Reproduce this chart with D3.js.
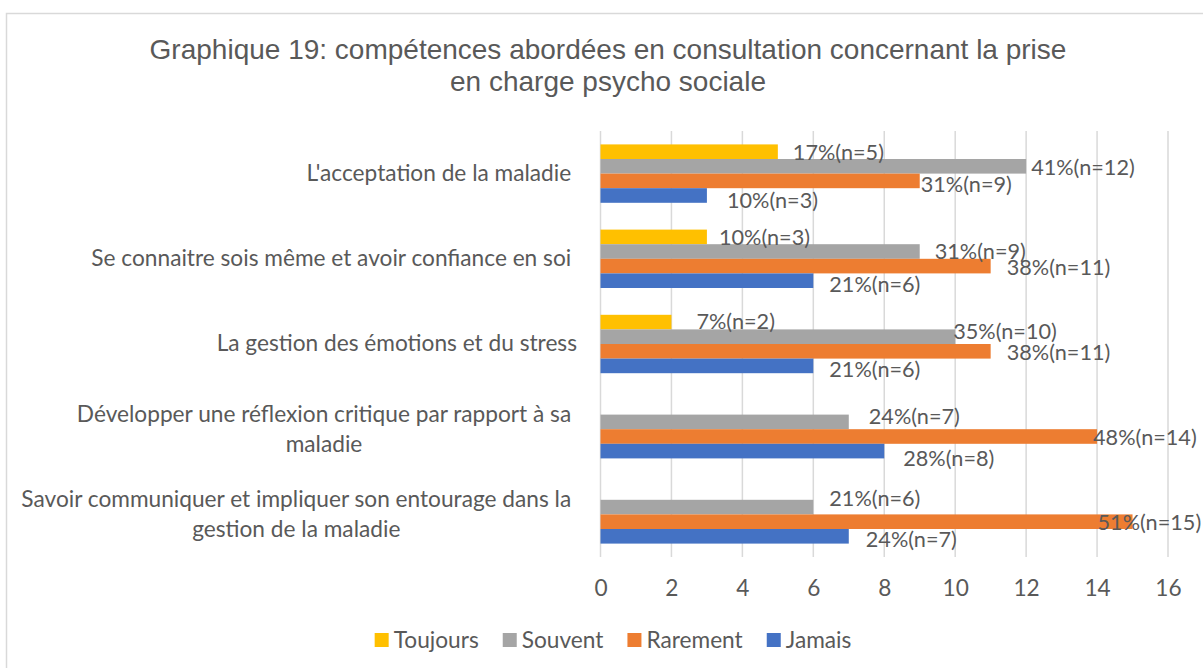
<!DOCTYPE html>
<html>
<head>
<meta charset="utf-8">
<script src="https://cdn.jsdelivr.net/npm/d3@7"></script>
<style>
  html, body { margin: 0; padding: 0; background: #ffffff; }
  svg { display: block; }
  text { white-space: pre; }
</style>
</head>
<body>
<svg id="chart" width="1203" height="668"></svg>
<script>
// ---------------- data ----------------
const titleLines = ["Graphique 19: compétences abordées en consultation concernant la prise", "en charge psycho sociale"];
const categories = [
  "L'acceptation de la maladie ",
  "Se connaitre sois même et avoir confiance en soi ",
  "La gestion des émotions et du stress",
  "Développer une réflexion critique par rapport à sa \nmaladie",
  "Savoir communiquer et impliquer son entourage dans la \ngestion de la maladie"
];
const seriesNames = ["Toujours", "Souvent", "Rarement", "Jamais"];
const toujours = [5, 3, 2, 0, 0];
const souvent  = [12, 9, 10, 7, 6];
const rarement = [9, 11, 11, 14, 15];
const jamais   = [3, 6, 6, 8, 7];
const toujoursPct = [17, 10, 7, null, null];
const souventPct  = [41, 31, 35, 24, 21];
const rarementPct = [31, 38, 38, 48, 51];
const jamaisPct   = [10, 21, 21, 28, 24];
const xTicks = [0, 2, 4, 6, 8, 10, 12, 14, 16];

// ---------------- layout / style ----------------
const colors = { Toujours: "#FFC000", Souvent: "#A5A5A5", Rarement: "#ED7D31", Jamais: "#4472C4" };
// manual nudges of data labels (dx from bar end, dy from bar centre), as moved in the original
const labelNudge = {
  Toujours: [[15, 1], [12, 1], [25, 0], [0, 0], [0, 0]],
  Souvent:  [[5, 2], [15, 0], [-2, -5], [20, -5], [16, -8]],
  Rarement: [[1, 4], [16, 2], [16, 2], [-4, 1], [-35, 1]],
  Jamais:   [[20, 5], [16, 4], [16, 4], [19, 8], [17, 4]]
};
const textColor = "#595959";
const gridColor = "#D9D9D9";
const titleFont = "'Liberation Sans', Arial, sans-serif";
const bodyFont = "Lato, 'Open Sans', sans-serif";

const svg = d3.select("#chart");

// calibrate body font size so it matches the original text widths
const probe = svg.append("text").attr("font-family", bodyFont).attr("font-size", 100).text("L'acceptation de la maladie");
const probeW = probe.node().getComputedTextLength();
probe.remove();
const fs = Math.max(16, Math.min(28, 100 * 265 / probeW));
const fsLabel = fs * 0.955;

// frame
svg.append("rect").attr("x", 6.5).attr("y", 13.5).attr("width", 1400).attr("height", 900)
  .attr("fill", "none").attr("stroke", gridColor).attr("stroke-width", 1.5);

// title
svg.append("g").selectAll("text").data(titleLines).join("text")
  .attr("x", 608).attr("y", (d, i) => 59 + i * 32)
  .attr("text-anchor", "middle")
  .attr("font-family", titleFont).attr("font-size", 28).attr("fill", textColor)
  .text(d => d);

const plot = { left: 600.5, right: 1168, top: 131, bottom: 557 };
const x = d3.scaleLinear().domain([0, 16]).range([plot.left, plot.right]);
const y = d3.scaleBand().domain(d3.range(categories.length)).range([plot.top, plot.bottom])
  .paddingInner(0.3146).paddingOuter(0.1573);
const yInner = d3.scaleBand().domain(seriesNames).range([0, y.bandwidth()]);

// gridlines
svg.append("g").selectAll("line").data(xTicks).join("line")
  .attr("x1", d => x(d)).attr("x2", d => x(d))
  .attr("y1", plot.top).attr("y2", plot.bottom)
  .attr("stroke", gridColor).attr("stroke-width", 1.5);

// x axis labels
const xAxis = d3.axisBottom(x).tickValues(xTicks).tickSize(0).tickPadding(0).tickFormat(d3.format("d"));
const gx = svg.append("g").attr("transform", `translate(0, ${plot.bottom})`).call(xAxis);
gx.select(".domain").remove();
gx.selectAll("text").attr("font-family", bodyFont).attr("font-size", fs).attr("fill", textColor)
  .attr("dy", null).attr("y", 39);

// series data
const seriesData = [
  { name: "Toujours", values: toujours, pct: toujoursPct },
  { name: "Souvent", values: souvent, pct: souventPct },
  { name: "Rarement", values: rarement, pct: rarementPct },
  { name: "Jamais", values: jamais, pct: jamaisPct }
];

const groups = svg.append("g").selectAll("g").data(categories.map((c, i) => i)).join("g")
  .attr("transform", i => `translate(0, ${y(i)})`);

groups.selectAll("rect").data(i => seriesData.map(s => ({ s: s.name, v: s.values[i] })))
  .join("rect")
  .attr("x", x(0))
  .attr("y", d => yInner(d.s))
  .attr("width", d => x(d.v) - x(0))
  .attr("height", yInner.bandwidth())
  .attr("fill", d => colors[d.s]);

groups.selectAll("text").data(i => seriesData.filter(s => s.pct[i] != null && s.values[i] > 0)
    .map(s => ({ s: s.name, v: s.values[i], p: s.pct[i], n: labelNudge[s.name][i] })))
  .join("text")
  .attr("x", d => x(d.v) + d.n[0])
  .attr("y", d => yInner(d.s) + yInner.bandwidth() / 2 + d.n[1] + fsLabel * 0.33)
  .attr("font-family", bodyFont).attr("font-size", fsLabel).attr("fill", textColor)
  .text(d => `${d.p}%(n=${d.v})`);

// category labels
const labelRight = 577;
const tmp = svg.append("text").attr("font-family", bodyFont).attr("font-size", fs).text("a a");
const tmp2 = svg.append("text").attr("font-family", bodyFont).attr("font-size", fs).text("aa");
const spaceW = tmp.node().getComputedTextLength() - tmp2.node().getComputedTextLength();
tmp.remove(); tmp2.remove();
const lineH = 30;
const catG = svg.append("g");
categories.forEach((c, i) => {
  const lines = c.split("\n");
  const cy = y(i) + y.bandwidth() / 2;
  if (lines.length === 1) {
    catG.append("text").attr("x", labelRight).attr("y", cy + fs * 0.33)
      .attr("text-anchor", "end").attr("font-family", bodyFont).attr("font-size", fs).attr("fill", textColor)
      .text(lines[0]);
  } else {
    const trimmed = lines.map(l => l.trim());
    const ts = trimmed.map(l => catG.append("text").attr("font-family", bodyFont).attr("font-size", fs)
      .attr("fill", textColor).attr("text-anchor", "middle").text(l));
    const maxW = d3.max(ts, t => t.node().getComputedTextLength());
    const cx = labelRight - spaceW - maxW / 2;
    ts.forEach((t, k) => t.attr("x", cx).attr("y", cy + (k - (lines.length - 1) / 2) * lineH + fs * 0.33));
  }
});

// legend
const legend = svg.append("g");
let lx = 0;
const sq = 14;
seriesNames.forEach(name => {
  const g = legend.append("g").attr("transform", `translate(${lx},0)`);
  g.append("rect").attr("x", 0).attr("y", -sq / 2).attr("width", sq).attr("height", sq).attr("fill", colors[name]);
  const t = g.append("text").attr("x", sq + 5).attr("y", fs * 0.33).attr("font-family", bodyFont)
    .attr("font-size", fs).attr("fill", textColor).text(name);
  lx += sq + 5 + t.node().getComputedTextLength() + 24;
});
const legendW = lx - 24;
legend.attr("transform", `translate(${613 - legendW / 2}, 640)`);
</script>
</body>
</html>
